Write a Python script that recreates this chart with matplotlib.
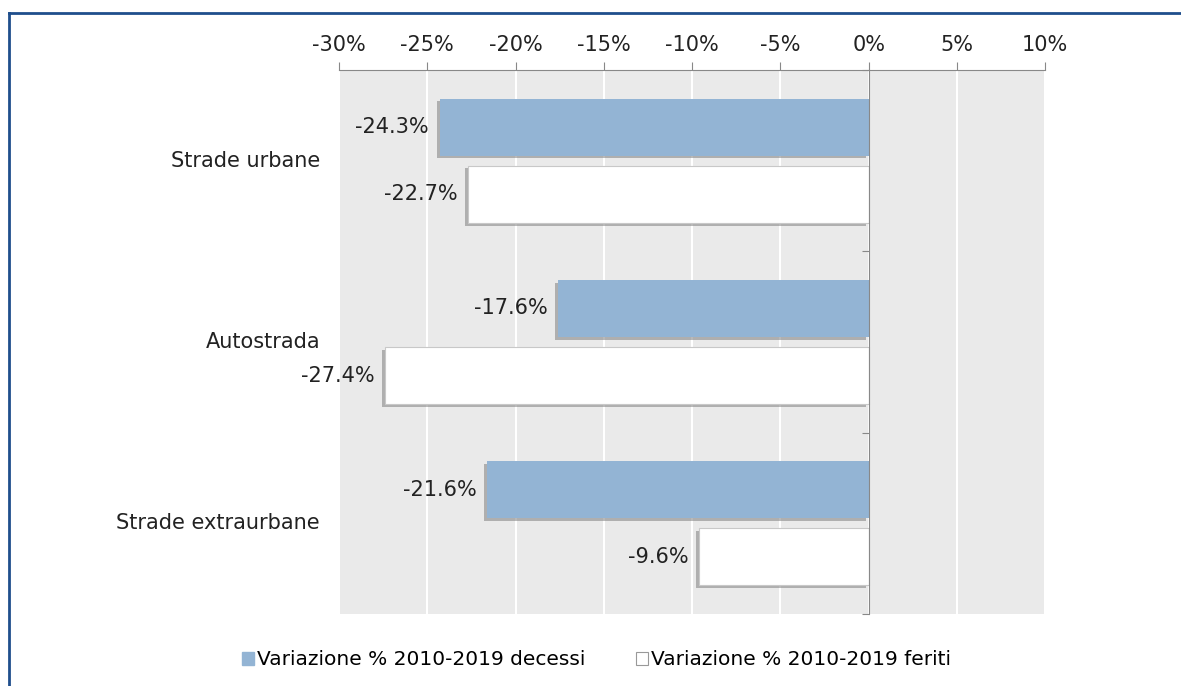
import matplotlib.pyplot as plt
import matplotlib.patheffects as pe
from matplotlib.patches import Patch
from matplotlib.lines import Line2D
from matplotlib.transforms import blended_transform_factory

categories = ['Strade urbane', 'Autostrada', 'Strade extraurbane']
decessi = [-24.3, -17.6, -21.6]
feriti = [-22.7, -27.4, -9.6]
xticks = [-30, -25, -20, -15, -10, -5, 0, 5, 10]
series_labels = ['Variazione % 2010-2019 decessi', 'Variazione % 2010-2019 feriti']

blue = '#93b4d4'
plt.rcParams['font.family'] = ['DejaVu Sans']

fig = plt.figure(figsize=(11.81, 6.86), dpi=100)
ax = fig.add_axes([0.287, 0.105, 0.598, 0.793])
ax.set_facecolor('#eaeaea')

# frame lines round the chart
fig.add_artist(Line2D([0.008, 0.008], [0, 0.981], transform=fig.transFigure, color='#1f4e8c', lw=2))
fig.add_artist(Line2D([0.008, 1.0], [0.981, 0.981], transform=fig.transFigure, color='#1f4e8c', lw=2))

ypos = list(range(len(categories)))
off = 0.185
h = 0.315
shadow = [pe.withSimplePatchShadow(offset=(-2, -2), shadow_rgbFace='#808080', alpha=0.55)]

ax.barh([y - off for y in ypos], decessi, height=h, color=blue, path_effects=shadow, zorder=3)
ax.barh([y + off for y in ypos], feriti, height=h, color='white', edgecolor='#c8c8c8',
        linewidth=0.8, path_effects=shadow, zorder=3)

for y, v in zip(ypos, decessi):
    ax.text(v - 0.6, y - off, f'{v:.1f}%', ha='right', va='center', fontsize=15, color='#222222')
for y, v in zip(ypos, feriti):
    ax.text(v - 0.6, y + off, f'{v:.1f}%', ha='right', va='center', fontsize=15, color='#222222')

ax.set_xlim(-30, 10)
ax.set_ylim(2.5, -0.5)
ax.xaxis.tick_top()
ax.set_xticks(xticks)
ax.set_xticklabels([f'{t}%' for t in xticks], fontsize=15, color='#222222')
ax.tick_params(axis='x', length=6, color='#888888', pad=5)
ax.grid(axis='x', color='white', lw=1.5, zorder=1)
ax.set_axisbelow(True)

for s in ['right', 'bottom']:
    ax.spines[s].set_visible(False)
ax.spines['top'].set_color('#888888')
ax.spines['left'].set_position(('data', 0))
ax.spines['left'].set_color('#888888')
ax.spines['left'].set_zorder(4)
ax.set_yticks([-0.5, 0.5, 1.5, 2.5])
ax.set_yticklabels([])
ax.tick_params(axis='y', length=5, color='#888888', direction='out')

trans = blended_transform_factory(fig.transFigure, ax.transData)
for y, c in zip(ypos, categories):
    ax.text(0.271, y, c, transform=trans, ha='right', va='center', fontsize=15, color='#222222')

handles = [Patch(facecolor=blue, edgecolor=blue),
           Patch(facecolor='white', edgecolor='#999999', linewidth=0.8)]
fig.legend(handles, series_labels, loc='center', bbox_to_anchor=(0.505, 0.038), ncol=2,
           frameon=False, fontsize=14.5, handlelength=0.6, handleheight=0.6,
           handletextpad=0.15, columnspacing=2.5)

fig.savefig('out.png', dpi=100)
